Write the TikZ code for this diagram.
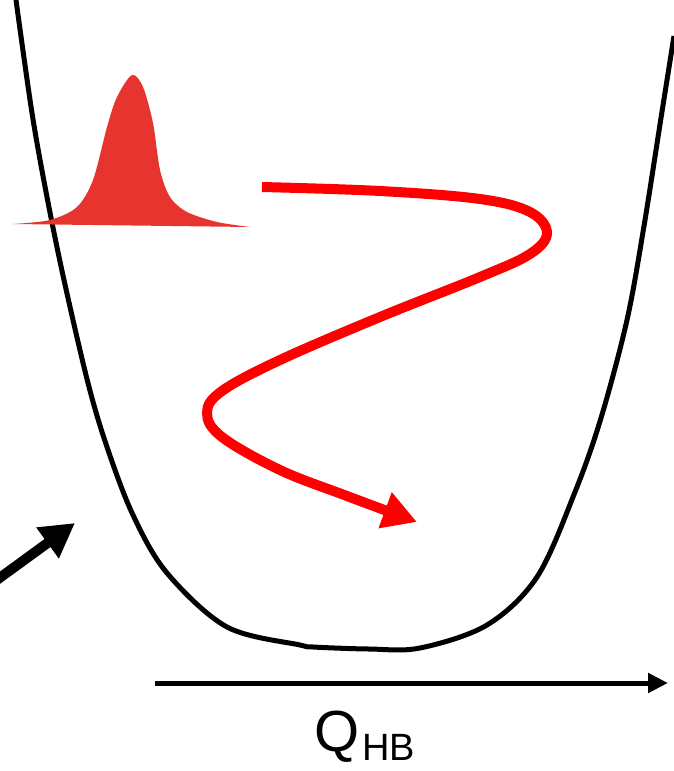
\documentclass[tikz,border=0pt]{standalone}
\usepackage{fontspec}
\setmainfont{Liberation Sans}
\usetikzlibrary{positioning,arrows.meta}
\definecolor{wavered}{RGB}{232,52,46}
\definecolor{pathred}{RGB}{255,0,0}

\begin{document}
\begin{tikzpicture}[x=1pt,y=-1pt,
  well/.style={line width=5pt,line join=round},
  wave/.style={fill=wavered},
  traj/.style={line width=10pt,pathred,-{Triangle[length=34pt,width=36pt]}},
  kick/.style={line width=10pt,-{Triangle[length=34pt,width=36pt]}},
  axis/.style={line width=5pt,-{Triangle[length=20pt,width=19pt]}}]
  \useasboundingbox (0,0) rectangle (673,771);
  \draw[well] plot[smooth,tension=0.55] coordinates {(16,0) (32,113) (47,197) (64,280) (88,383)
    (107,447) (133,515) (167,573) (227,627) (300,645) (313,647) (369,649) (420,648)
    (487,625) (537,577) (575,492) (601,418) (627,320) (644,226) (661,118) (674,36)};
  \fill[wave] plot[smooth,tension=0.5] coordinates {(13,224) (50,220) (77,207) (93,180) (107,127)
    (117,97) (132,75) (143,87) (153,123) (160,170) (170,197) (187,212) (217,222) (250,227)} -- cycle;
  \draw[traj] plot[smooth,tension=0.6] coordinates {(262,187) (380,191) (480,199) (530,212) (547,233)
    (530,254) (480,277) (380,317) (280,360) (222,391) (207,413) (222,437) (280,470) (347,496) (417,522)};
  \coordinate (kickstart) at (-6,582);
  \coordinate (kicktip) at (75,523);
  \draw[kick] (kickstart) -- (kicktip);
  \coordinate (axisstart) at (155,683);
  \coordinate (axisend) at (668,683);
  \draw[axis] (axisstart) -- (axisend);
  \node[anchor=base west,inner sep=0pt] (qlabel) at (314,751)
    {\fontsize{58}{60}\selectfont Q\kern3pt\fontsize{38}{40}\selectfont\raisebox{-9pt}{HB}};
\end{tikzpicture}
\end{document}
